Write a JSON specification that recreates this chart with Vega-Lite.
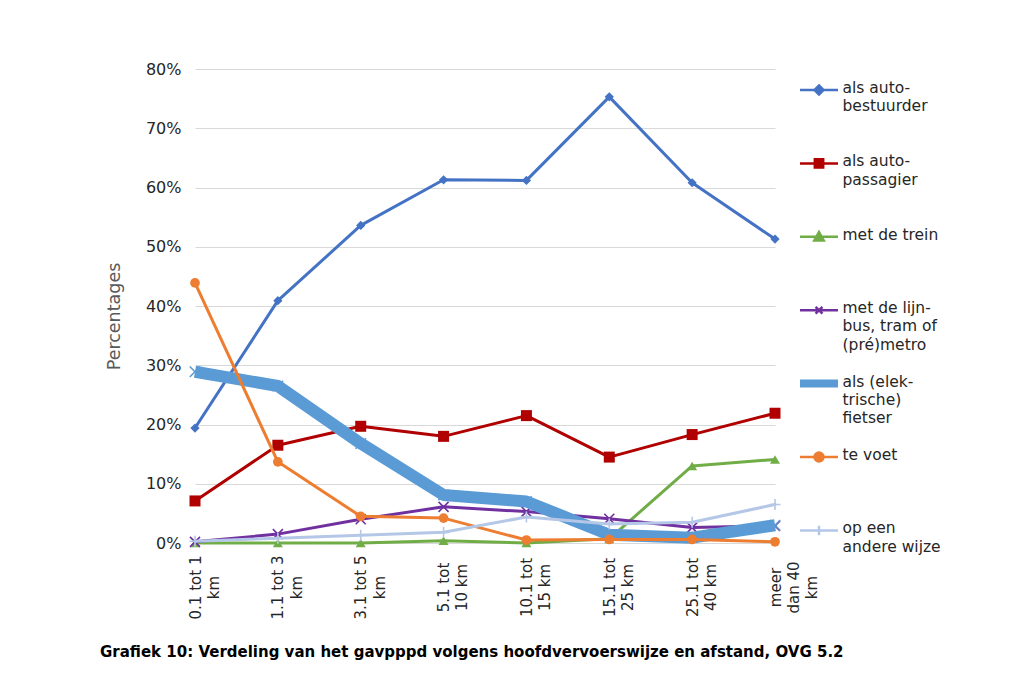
{
  "$schema": "https://vega.github.io/schema/vega-lite/v6.json",
  "width": 580,
  "height": 474,
  "autosize": {"type": "none"},
  "padding": {"left": 195, "top": 69, "right": 245, "bottom": 134},
  "background": "white",
  "config": {"font": "DejaVu Sans", "view": {"stroke": null}},
  "title": {
    "text": "Grafiek 10: Verdeling van het gavpppd volgens hoofdvervoerswijze en afstand, OVG 5.2",
    "orient": "bottom",
    "anchor": "start",
    "frame": "group",
    "dx": -95,
    "offset": 26,
    "fontSize": 15,
    "fontWeight": "bold",
    "color": "#000000",
    "font": "DejaVu Sans"
  },
  "data": {
    "values": [
      {"wijze": "als auto-bestuurder", "afstand": "0.1 tot 1 km", "pct": 0.194},
      {"wijze": "als auto-bestuurder", "afstand": "1.1 tot 3 km", "pct": 0.409},
      {"wijze": "als auto-bestuurder", "afstand": "3.1 tot 5 km", "pct": 0.536},
      {"wijze": "als auto-bestuurder", "afstand": "5.1 tot 10 km", "pct": 0.613},
      {"wijze": "als auto-bestuurder", "afstand": "10.1 tot 15 km", "pct": 0.612},
      {"wijze": "als auto-bestuurder", "afstand": "15.1 tot 25 km", "pct": 0.753},
      {"wijze": "als auto-bestuurder", "afstand": "25.1 tot 40 km", "pct": 0.608},
      {"wijze": "als auto-bestuurder", "afstand": "meer dan 40 km", "pct": 0.513},
      {"wijze": "als auto-passagier", "afstand": "0.1 tot 1 km", "pct": 0.071},
      {"wijze": "als auto-passagier", "afstand": "1.1 tot 3 km", "pct": 0.165},
      {"wijze": "als auto-passagier", "afstand": "3.1 tot 5 km", "pct": 0.197},
      {"wijze": "als auto-passagier", "afstand": "5.1 tot 10 km", "pct": 0.180},
      {"wijze": "als auto-passagier", "afstand": "10.1 tot 15 km", "pct": 0.215},
      {"wijze": "als auto-passagier", "afstand": "15.1 tot 25 km", "pct": 0.145},
      {"wijze": "als auto-passagier", "afstand": "25.1 tot 40 km", "pct": 0.183},
      {"wijze": "als auto-passagier", "afstand": "meer dan 40 km", "pct": 0.219},
      {"wijze": "met de trein", "afstand": "0.1 tot 1 km", "pct": 0.0},
      {"wijze": "met de trein", "afstand": "1.1 tot 3 km", "pct": 0.0},
      {"wijze": "met de trein", "afstand": "3.1 tot 5 km", "pct": 0.0},
      {"wijze": "met de trein", "afstand": "5.1 tot 10 km", "pct": 0.004},
      {"wijze": "met de trein", "afstand": "10.1 tot 15 km", "pct": 0.0},
      {"wijze": "met de trein", "afstand": "15.1 tot 25 km", "pct": 0.007},
      {"wijze": "met de trein", "afstand": "25.1 tot 40 km", "pct": 0.130},
      {"wijze": "met de trein", "afstand": "meer dan 40 km", "pct": 0.141},
      {"wijze": "met de lijnbus, tram of (pré)metro", "afstand": "0.1 tot 1 km", "pct": 0.002},
      {"wijze": "met de lijnbus, tram of (pré)metro", "afstand": "1.1 tot 3 km", "pct": 0.015},
      {"wijze": "met de lijnbus, tram of (pré)metro", "afstand": "3.1 tot 5 km", "pct": 0.040},
      {"wijze": "met de lijnbus, tram of (pré)metro", "afstand": "5.1 tot 10 km", "pct": 0.061},
      {"wijze": "met de lijnbus, tram of (pré)metro", "afstand": "10.1 tot 15 km", "pct": 0.053},
      {"wijze": "met de lijnbus, tram of (pré)metro", "afstand": "15.1 tot 25 km", "pct": 0.041},
      {"wijze": "met de lijnbus, tram of (pré)metro", "afstand": "25.1 tot 40 km", "pct": 0.026},
      {"wijze": "met de lijnbus, tram of (pré)metro", "afstand": "meer dan 40 km", "pct": 0.029},
      {"wijze": "als (elektrische) fietser", "afstand": "0.1 tot 1 km", "pct": 0.289},
      {"wijze": "als (elektrische) fietser", "afstand": "1.1 tot 3 km", "pct": 0.265},
      {"wijze": "als (elektrische) fietser", "afstand": "3.1 tot 5 km", "pct": 0.168},
      {"wijze": "als (elektrische) fietser", "afstand": "5.1 tot 10 km", "pct": 0.081},
      {"wijze": "als (elektrische) fietser", "afstand": "10.1 tot 15 km", "pct": 0.070},
      {"wijze": "als (elektrische) fietser", "afstand": "15.1 tot 25 km", "pct": 0.014},
      {"wijze": "als (elektrische) fietser", "afstand": "25.1 tot 40 km", "pct": 0.009},
      {"wijze": "als (elektrische) fietser", "afstand": "meer dan 40 km", "pct": 0.030},
      {"wijze": "te voet", "afstand": "0.1 tot 1 km", "pct": 0.439},
      {"wijze": "te voet", "afstand": "1.1 tot 3 km", "pct": 0.137},
      {"wijze": "te voet", "afstand": "3.1 tot 5 km", "pct": 0.045},
      {"wijze": "te voet", "afstand": "5.1 tot 10 km", "pct": 0.042},
      {"wijze": "te voet", "afstand": "10.1 tot 15 km", "pct": 0.005},
      {"wijze": "te voet", "afstand": "15.1 tot 25 km", "pct": 0.006},
      {"wijze": "te voet", "afstand": "25.1 tot 40 km", "pct": 0.006},
      {"wijze": "te voet", "afstand": "meer dan 40 km", "pct": 0.002},
      {"wijze": "op een andere wijze", "afstand": "0.1 tot 1 km", "pct": 0.003},
      {"wijze": "op een andere wijze", "afstand": "1.1 tot 3 km", "pct": 0.008},
      {"wijze": "op een andere wijze", "afstand": "3.1 tot 5 km", "pct": 0.013},
      {"wijze": "op een andere wijze", "afstand": "5.1 tot 10 km", "pct": 0.018},
      {"wijze": "op een andere wijze", "afstand": "10.1 tot 15 km", "pct": 0.044},
      {"wijze": "op een andere wijze", "afstand": "15.1 tot 25 km", "pct": 0.032},
      {"wijze": "op een andere wijze", "afstand": "25.1 tot 40 km", "pct": 0.035},
      {"wijze": "op een andere wijze", "afstand": "meer dan 40 km", "pct": 0.065}
    ]
  },
  "encoding": {
    "x": {
      "field": "afstand",
      "type": "ordinal",
      "sort": ["0.1 tot 1 km", "1.1 tot 3 km", "3.1 tot 5 km", "5.1 tot 10 km", "10.1 tot 15 km", "15.1 tot 25 km", "25.1 tot 40 km", "meer dan 40 km"],
      "scale": {"type": "point", "padding": 0},
      "axis": {
        "title": null,
        "labelAngle": -90,
        "labelAlign": "center",
        "labelBaseline": "middle",
        "labelPadding": 44,
        "labelFontSize": 15,
        "labelLineHeight": 18.3,
        "labelColor": "#262626",
        "ticks": false,
        "domain": false,
        "grid": false,
        "labelExpr": "indexof(datum.value,'meer')==0 ? ['meer','dan 40','km'] : (datum.value=='0.1 tot 1 km'||datum.value=='1.1 tot 3 km'||datum.value=='3.1 tot 5 km') ? [replace(datum.value,' km',''),'km'] : [slice(datum.value,0,indexof(datum.value,' tot')+4), slice(datum.value,indexof(datum.value,' tot')+5)]"
      }
    },
    "y": {
      "field": "pct",
      "type": "quantitative",
      "scale": {"domain": [0, 0.8]},
      "axis": {
        "title": "Percentages",
        "format": ".0%",
        "values": [0, 0.1, 0.2, 0.3, 0.4, 0.5, 0.6, 0.7, 0.8],
        "labelFontSize": 16,
        "labelColor": "#262626",
        "labelPadding": 14,
        "ticks": false,
        "domain": false,
        "gridColor": "#d9d9d9",
        "gridWidth": 1,
        "titleFontSize": 17.5,
        "titleFontWeight": "normal",
        "titleColor": "#595959",
        "titlePadding": 22,
        "titleY": 247
      }
    },
    "color": {
      "field": "wijze",
      "type": "nominal",
      "scale": {
        "domain": ["als auto-bestuurder", "als auto-passagier", "met de trein", "met de lijnbus, tram of (pré)metro", "als (elektrische) fietser", "te voet", "op een andere wijze"],
        "range": ["#4472c4", "#b00000", "#70ad47", "#7030a0", "#5b9bd5", "#ed7d31", "#b4c7e7"]
      },
      "legend": {
        "orient": "none",
        "legendX": 605,
        "legendY": 12,
        "title": null,
        "padding": 0,
        "labelFontSize": 15.5,
        "labelFont": "DejaVu Sans",
        "labelColor": "#262626",
        "labelOffset": 27,
        "labelLimit": 0,
        "symbolSize": 1444,
        "rowPadding": 13.4,
        "gridAlign": "all",
        "labelExpr": "datum.label == 'als auto-bestuurder' ? ['als auto-','bestuurder'] : datum.label == 'als auto-passagier' ? ['als auto-','passagier'] : datum.label == 'met de lijnbus, tram of (pré)metro' ? ['met de lijn-','bus, tram of','(pré)metro'] : datum.label == 'als (elektrische) fietser' ? ['als (elek-','trische)','fietser'] : datum.label == 'op een andere wijze' ? ['op een','andere wijze'] : datum.label",
        "encode": {
          "labels": {
            "update": {
              "y": {"value": 0},
              "baseline": {"value": "top"},
              "lineHeight": {"value": 18.3}
            }
          },
          "symbols": {
            "update": {
              "x": {"value": 19},
              "y": {"value": 9},
              "shape": {"signal": "datum.value == 'als auto-bestuurder' ? 'M-1,0L1,0M0,-0.24L0.24,0L0,0.24L-0.24,0Z' : datum.value == 'als auto-passagier' ? 'M-1,0L1,0M-0.22,-0.22L0.22,-0.22L0.22,0.22L-0.22,0.22Z' : datum.value == 'met de trein' ? 'M-1,0L1,0M0,-0.25L0.25,0.2L-0.25,0.2Z' : datum.value == 'met de lijnbus, tram of (pré)metro' ? 'M-1,0L1,0M-0.18,-0.18L0.18,0.18M-0.18,0.18L0.18,-0.18' : datum.value == 'te voet' ? 'M-1,0L1,0M0.24,0A0.24,0.24,0,1,1,-0.24,0A0.24,0.24,0,1,1,0.24,0Z' : datum.value == 'op een andere wijze' ? 'M-1,0L1,0M0,-0.25L0,0.25' : 'M-1,0L1,0'"},
              "strokeWidth": {"signal": "datum.value == 'als (elektrische) fietser' ? 8 : 2.5"},
              "fill": {"signal": "scale('color', datum.value)"},
              "stroke": {"signal": "scale('color', datum.value)"},
              "opacity": {"value": 1},
              "fillOpacity": {"value": 1},
              "strokeOpacity": {"value": 1}
            }
          }
        }
      }
    }
  },
  "layer": [
    {
      "transform": [{"filter": {"field": "wijze", "oneOf": ["als auto-bestuurder", "als auto-passagier", "met de trein", "met de lijnbus, tram of (pré)metro"]}}],
      "mark": {"type": "line", "strokeWidth": 3, "strokeJoin": "round", "strokeCap": "round"},
      "encoding": {}
    },
    {
      "transform": [{"filter": {"field": "wijze", "equal": "als auto-bestuurder"}}],
      "mark": {"type": "point", "shape": "diamond", "filled": true, "opacity": 1, "size": 85},
      "encoding": {}
    },
    {
      "transform": [{"filter": {"field": "wijze", "equal": "als auto-passagier"}}],
      "mark": {"type": "point", "shape": "square", "filled": true, "opacity": 1, "size": 121},
      "encoding": {}
    },
    {
      "transform": [{"filter": {"field": "wijze", "equal": "met de trein"}}],
      "mark": {"type": "point", "shape": "triangle-up", "filled": true, "opacity": 1, "size": 100},
      "encoding": {}
    },
    {
      "transform": [{"filter": {"field": "wijze", "equal": "met de lijnbus, tram of (pré)metro"}}],
      "mark": {"type": "point", "shape": "M-1,-1L1,1M-1,1L1,-1", "filled": false, "opacity": 1, "size": 100, "strokeWidth": 1.6},
      "encoding": {}
    },
    {
      "transform": [{"filter": {"field": "wijze", "equal": "als (elektrische) fietser"}}],
      "mark": {"type": "line", "strokeWidth": 12, "strokeJoin": "round", "strokeCap": "butt"},
      "encoding": {}
    },
    {
      "transform": [{"filter": {"field": "wijze", "equal": "als (elektrische) fietser"}}],
      "mark": {"type": "point", "shape": "M-1,-1L1,1M-1,1L1,-1", "filled": false, "opacity": 1, "size": 110, "strokeWidth": 1.6},
      "encoding": {}
    },
    {
      "transform": [{"filter": {"field": "wijze", "oneOf": ["te voet", "op een andere wijze"]}}],
      "mark": {"type": "line", "strokeWidth": 3, "strokeJoin": "round", "strokeCap": "round"},
      "encoding": {}
    },
    {
      "transform": [{"filter": {"field": "wijze", "equal": "te voet"}}],
      "mark": {"type": "point", "shape": "circle", "filled": true, "opacity": 1, "size": 95},
      "encoding": {}
    },
    {
      "transform": [{"filter": {"field": "wijze", "equal": "op een andere wijze"}}],
      "mark": {"type": "point", "shape": "M-1,0L1,0M0,-1L0,1", "filled": false, "opacity": 1, "size": 121, "strokeWidth": 1.6},
      "encoding": {}
    }
  ]
}
